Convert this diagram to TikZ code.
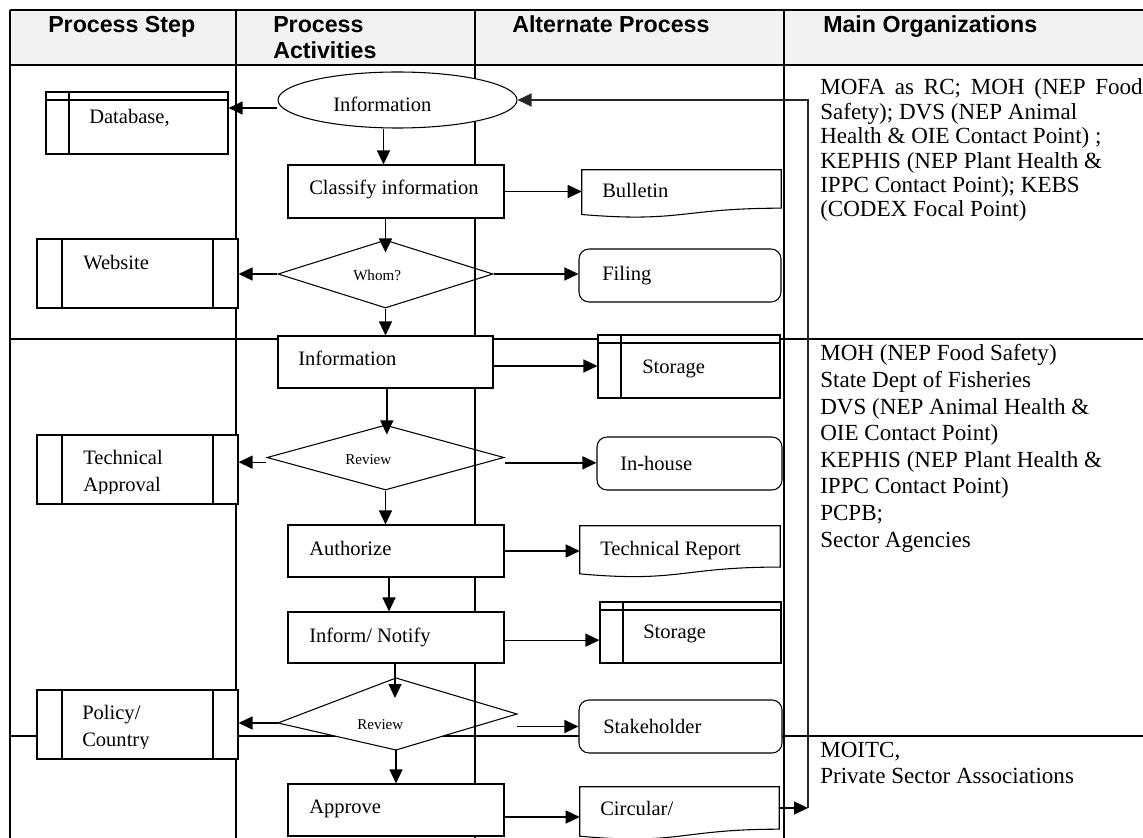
\documentclass[tikz,border=0pt]{standalone}
\usepackage{fontspec}
\setmainfont{Liberation Serif}
\newfontfamily\headfont{Liberation Sans}
\usetikzlibrary{arrows.meta,shapes.geometric,calc}

% type sizes
\newcommand\flowsize{\fontsize{15.4}{20.25}\selectfont}
\newcommand\decsize{\fontsize{11.3}{13}\selectfont}
\newcommand\headsize{\headfont\bfseries\fontsize{17.4}{19.5}\selectfont}
\newcommand\wsp{\hspace{7.3pt}}

% document symbol drawn over an invisible rectangle node
\newcommand\docpath[1]{%
  \draw[shp] (#1.north west) -- (#1.north east)
    -- ($(#1.north east)!0.802!(#1.south east)$)
    .. controls ($(#1.north)!0.802!(#1.south)$) and ($(#1.north)!1.108!(#1.south)$)
    .. ($(#1.north west)!0.934!(#1.south west)$) -- cycle;}

\tikzset{
  tbl/.style={line width=1pt},
  shp/.style={draw, fill=white, line width=0.8pt, inner sep=0pt},
  act/.style={shp, rectangle},
  predef/.style={act, path picture={
      \draw[line width=0.8pt] ([xshift=18.75pt]path picture bounding box.north west) -- ([xshift=18.75pt]path picture bounding box.south west);
      \draw[line width=0.8pt] ([xshift=-18.75pt]path picture bounding box.north east) -- ([xshift=-18.75pt]path picture bounding box.south east);}},
  store/.style={act, path picture={
      \draw[line width=0.8pt] ([xshift=17.25pt]path picture bounding box.north west) -- ([xshift=17.25pt]path picture bounding box.south west);
      \draw[line width=0.8pt] ([yshift=-6pt]path picture bounding box.north west) -- ([yshift=-6pt]path picture bounding box.north east);}},
  alt/.style={act, rounded corners=7.5pt},
  docbox/.style={rectangle, inner sep=0pt},
  term/.style={shp, ellipse},
  decide/.style={shp, diamond},
  sz/.style 2 args={minimum width=#1pt, minimum height=#2pt},
  arr/.style={line width=1pt, -{Triangle[length=10.5pt,width=9.75pt]}},
  loopline/.style={line width=0.9pt, draw=black!85, -{Triangle[length=10.5pt,width=9.75pt]}},
  lbl/.style={inner sep=0pt, anchor=base west, font=\flowsize, align=left},
  declbl/.style={inner sep=0pt, anchor=base west, font=\decsize},
  hdr/.style={inner sep=0pt, anchor=base west, font=\headsize, align=left},
  org/.style={inner sep=0pt, anchor=base west, align=left},
}

\begin{document}
\begin{tikzpicture}[x=0.75pt, y=-0.75pt]
\useasboundingbox (0,0) rectangle (1143,838);

% header band
\fill[black!5] (10,10) rectangle (1143,65);

% horizontal rules of the table
\draw[tbl] (10,10) -- (1143,10);
\draw[tbl] (10,65) -- (1143,65);
\draw[tbl] (10,339) -- (1143,339);
\draw[tbl] (10,736) -- (1143,736);

% decisions
\node[decide, sz={161.25}{51}] (whom) at (385.5,274) {};
\node[decide, sz={177.75}{48.75}] (rev1) at (385.5,457.5) {};
\coordinate (rev2w) at (278,723);
\coordinate (rev2n) at (396,678);
\coordinate (rev2e) at (517,714);
\coordinate (rev2s) at (396,750);
\draw[shp] (rev2w) -- (rev2n) -- (rev2e) -- (rev2s) -- cycle;

% column rules
\draw[tbl] (10,10) -- (10,838);
\draw[tbl] (236,10) -- (236,838);
\draw[tbl] (475,10) -- (475,838);
\draw[tbl] (784,10) -- (784,838);

% process step column
\node[store, sz={136.5}{46.5}] (database) at (137,123) {};
\node[predef, sz={150.75}{51.75}] (web) at (137.5,273.5) {};
\node[predef, sz={150.75}{51.75}] (techapp) at (137.5,469.5) {};
\node[predef, sz={150.75}{51.75}] (policy) at (137.5,724.5) {};

% process activities column
\node[term, sz={179.25}{42}] (info) at (397.5,100) {};
\node[act, sz={162}{39.75}] (classify) at (396,191.5) {};
\node[act, sz={161.25}{39}] (infobox) at (385.5,362) {};
\node[act, sz={162}{39}] (authorize) at (396,551) {};
\node[act, sz={162}{38.25}] (inform) at (396,637.5) {};
\node[act, sz={162}{39}] (approve) at (396,810) {};

% alternate process column
\node[docbox, sz={149.25}{35.55}] (bulletin) at (681.5,193.7) {};
\docpath{bulletin}
\node[alt, sz={151.5}{39.75}] (filing) at (680,275.5) {};
\node[store, sz={136.5}{47.25}] (store1) at (689,366.5) {};
\node[alt, sz={138.75}{39.75}] (inhouse) at (689.5,463.5) {};
\node[docbox, sz={150}{38.25}] (techrep) at (680,551.5) {};
\docpath{techrep}
\node[store, sz={135.75}{45.75}] (store2) at (690.5,632.5) {};
\node[alt, sz={152.25}{39.75}] (stake) at (680.5,726.5) {};
\node[docbox, sz={149.25}{39.3}] (circular) at (679.5,813.2) {};
\docpath{circular}

% header texts (multi-line nodes sit on the baseline of their last line)
\node[hdr] (h1) at (48,33) {Process Step};
\node[hdr] (h2) at (273,59) {Process\\Activities};
\node[hdr] (h3) at (512,33) {Alternate Process};
\node[hdr] (h4) at (823,33) {Main Organizations};

% shape texts
\node[lbl] (t-info) at (333,112) {Information};
\node[lbl] (t-db) at (89,124) {Database,};
\node[lbl] (t-classify) at (309,195) {Classify information};
\node[lbl] (t-bulletin) at (602,198) {Bulletin};
\node[lbl] (t-web) at (83,269) {Website};
\node[declbl] (t-whom) at (353,281) {Whom?};
\node[lbl] (t-filing) at (602,281) {Filing};
\node[lbl] (t-infobox) at (298,365) {Information};
\node[lbl] (t-store1) at (642,373) {Storage};
\begin{scope}
  \clip (37,435) rectangle (238,493);
  \node[lbl] (t-techapp) at (83,491) {Technical\\Approval};
\end{scope}
\node[declbl] (t-rev1) at (345,464) {Review};
\node[lbl] (t-inhouse) at (620,470) {In-house};
\node[lbl] (t-authorize) at (309,555) {Authorize};
\node[lbl] (t-techrep) at (600,555) {Technical Report};
\node[lbl] (t-inform) at (309,642) {Inform/ Notify};
\node[lbl] (t-store2) at (643,638) {Storage};
\begin{scope}
  \clip (37,690) rectangle (238,748);
  \node[lbl] (t-policy) at (82,746) {Policy/\\Country};
\end{scope}
\node[declbl] (t-rev2) at (357,729) {Review};
\node[lbl] (t-stake) at (603,733) {Stakeholder};
\node[lbl] (t-approve) at (309,813) {Approve};
\node[lbl] (t-circular) at (600,815) {Circular/};

% organisations
\node[org, font=\fontsize{17.3}{18.3}\selectfont] (org1) at (820,217)
  {MOFA\wsp as\wsp RC;\wsp MOH\wsp (NEP\wsp Food\\Safety); DVS (NEP Animal\\Health \& OIE Contact Point) ;\\KEPHIS (NEP Plant Health \&\\IPPC Contact Point); KEBS\\(CODEX Focal Point)};
\node[org, font=\fontsize{17.3}{19.95}\selectfont] (org2) at (820,547)
  {MOH (NEP Food Safety)\\State Dept of Fisheries\\DVS (NEP Animal Health \&\\OIE Contact Point)\\KEPHIS (NEP Plant Health \&\\IPPC Contact Point)\\PCPB;\\Sector Agencies};
\node[org, font=\fontsize{17.3}{19.5}\selectfont] (org3) at (820,783)
  {MOITC,\\Private Sector Associations};

% connectors
\draw[arr] ([yshift=-6pt]info.west) -- ([yshift=-6pt]info.west -| database.east);
\draw[arr] ([xshift=-10.5pt]info.south) -- ([xshift=-10.5pt]info.south |- classify.north);
\draw[arr] (classify.east) -- (classify.east -| bulletin.west);
\draw[arr] (whom.north |- classify.south) -- ([yshift=-9.75pt]whom.north);
\draw[arr] (whom.west) -- (whom.west -| web.east);
\draw[arr] (whom.east) -- (whom.east -| filing.west);
\draw[arr] (whom.south) -- (whom.south |- infobox.north);
\draw[arr] ([yshift=-3pt]infobox.east) -- ([yshift=-3pt]infobox.east -| store1.west);
\draw[arr] ([xshift=1pt]rev1.north |- infobox.south) -- ([xshift=1pt,yshift=-7.5pt]rev1.north);
\draw[arr] ([yshift=-3.5pt]rev1.west) -- ([yshift=-3.5pt]rev1.west -| techapp.east);
\draw[arr] ([yshift=-4pt]rev1.east) -- ([yshift=-4pt]rev1.east -| inhouse.west);
\draw[arr] (rev1.south) -- (rev1.south |- authorize.north);
\draw[arr] (authorize.east) -- (authorize.east -| techrep.west);
\draw[arr] ([xshift=-5.25pt]authorize.south) -- ([xshift=-5.25pt]authorize.south |- inform.north);
\draw[arr] ([yshift=-2pt]inform.east) -- ([yshift=-2pt]inform.east -| store2.west);
\draw[arr] ([xshift=-0.75pt]inform.south) -- ([xshift=-0.75pt]inform.south |- rev2n) -- ++(0,20);
\draw[arr] (rev2w) -- (rev2w -| policy.east);
\draw[arr] (rev2e |- stake.west) -- (stake.west);
\draw[arr] (rev2s) -- (rev2s |- approve.north);
\draw[arr] ([yshift=-5.25pt]approve.east) -- ([yshift=-5.25pt]approve.east -| circular.west);
\coordinate (fbk) at (808,808);
\draw[arr] ([yshift=3.9pt]circular.east) -- ([yshift=3.9pt]circular.east -| fbk);
\draw[loopline] (fbk) |- (info.east);
\end{tikzpicture}
\end{document}
